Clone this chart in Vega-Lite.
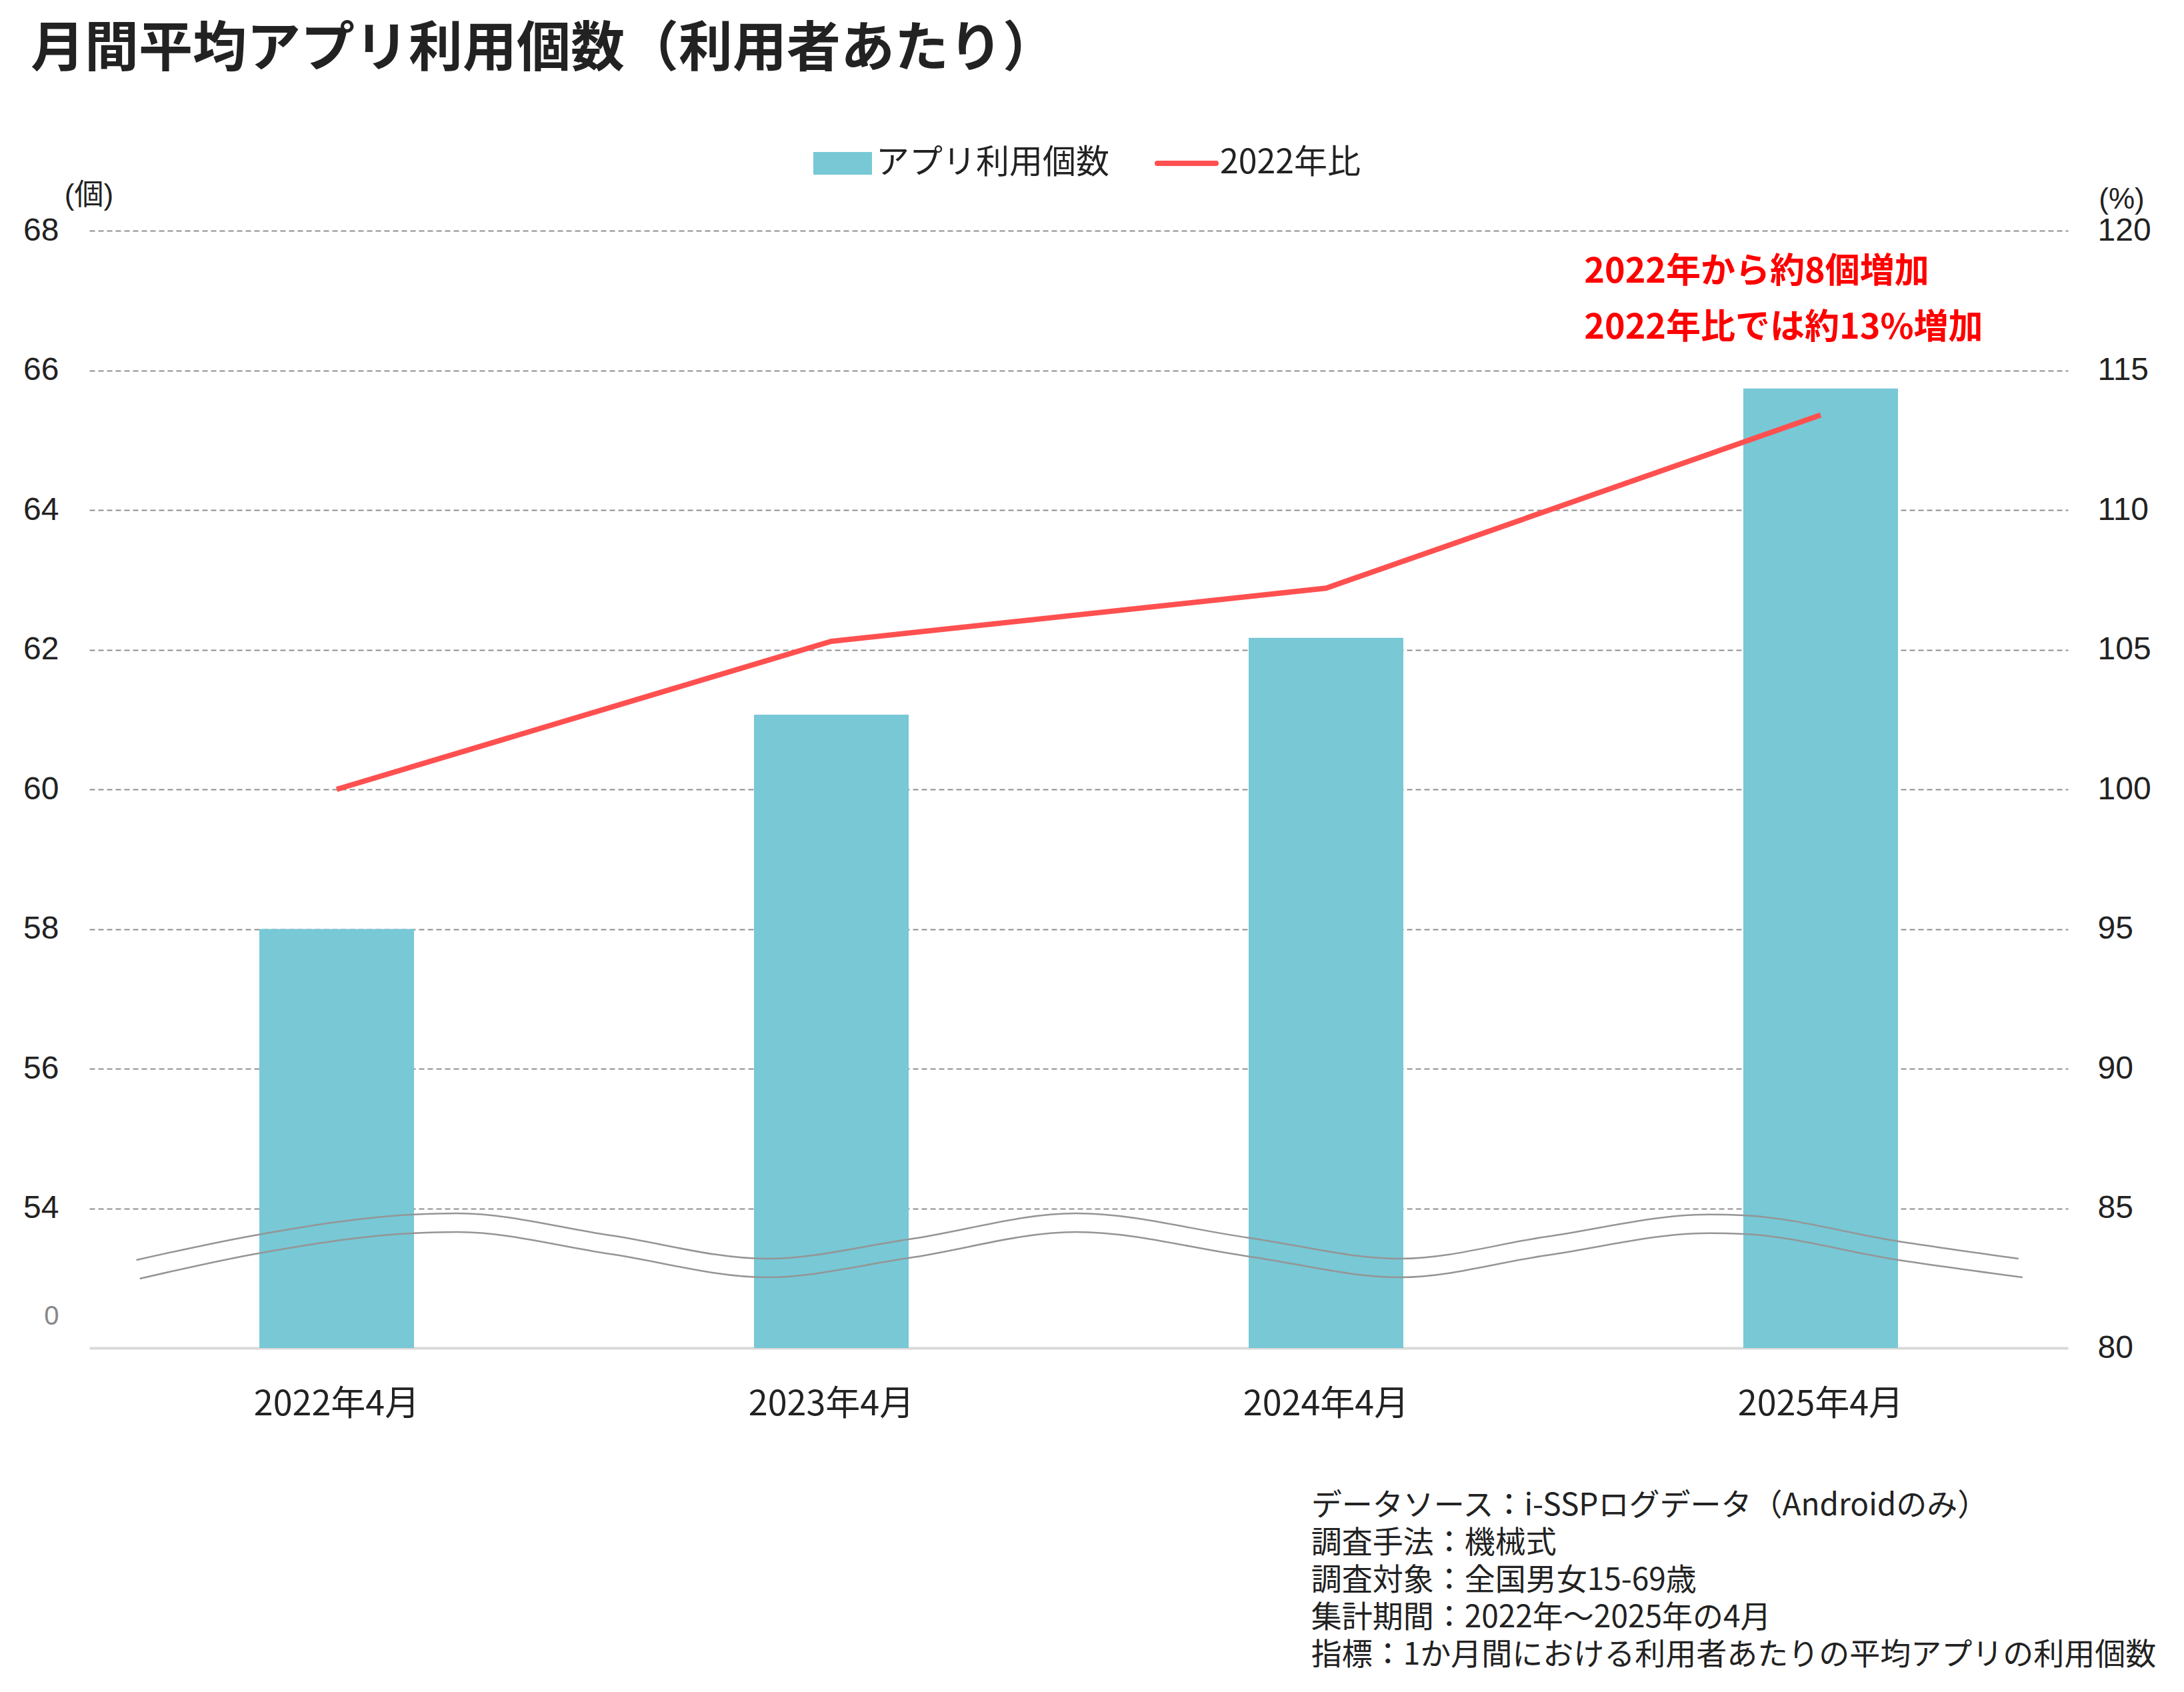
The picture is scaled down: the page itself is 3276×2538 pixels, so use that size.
{
  "$schema": "https://vega.github.io/schema/vega-lite/v6.json",
  "width": 2968,
  "height": 1676,
  "autosize": {"type": "none"},
  "padding": {"left": 134, "top": 346, "right": 174, "bottom": 516},
  "background": "white",
  "config": {"view": {"stroke": null}},
  "title": {
    "text": "月間平均アプリ利用個数（利用者あたり）",
    "anchor": "start",
    "frame": "group",
    "font": "Noto Sans CJK JP",
    "fontSize": 81,
    "fontWeight": "bold",
    "color": "#222222",
    "dx": -88,
    "dy": -104,
    "offset": 0
  },
  "datasets": {
    "main": [
      {"month": "2022年4月", "count": 58.0, "ratio": 100.0},
      {"month": "2023年4月", "count": 61.07, "ratio": 105.3},
      {"month": "2024年4月", "count": 62.17, "ratio": 107.2},
      {"month": "2025年4月", "count": 65.74, "ratio": 113.4}
    ],
    "wave": [
      {"line": "upper", "pos": 0.095, "level": 53.26},
      {"line": "upper", "pos": 0.344, "level": 53.626},
      {"line": "upper", "pos": 0.656, "level": 53.912},
      {"line": "upper", "pos": 0.744, "level": 53.928},
      {"line": "upper", "pos": 1.053, "level": 53.613},
      {"line": "upper", "pos": 1.369, "level": 53.279},
      {"line": "upper", "pos": 1.656, "level": 53.556},
      {"line": "upper", "pos": 1.995, "level": 53.928},
      {"line": "upper", "pos": 2.344, "level": 53.578},
      {"line": "upper", "pos": 2.65, "level": 53.279},
      {"line": "upper", "pos": 2.946, "level": 53.594},
      {"line": "upper", "pos": 3.275, "level": 53.912},
      {"line": "upper", "pos": 3.345, "level": 53.9},
      {"line": "upper", "pos": 3.655, "level": 53.53},
      {"line": "upper", "pos": 3.9, "level": 53.279},
      {"line": "lower", "pos": 0.102, "level": 52.993},
      {"line": "lower", "pos": 0.344, "level": 53.359},
      {"line": "lower", "pos": 0.656, "level": 53.645},
      {"line": "lower", "pos": 0.744, "level": 53.661},
      {"line": "lower", "pos": 1.053, "level": 53.346},
      {"line": "lower", "pos": 1.369, "level": 53.012},
      {"line": "lower", "pos": 1.656, "level": 53.289},
      {"line": "lower", "pos": 1.995, "level": 53.661},
      {"line": "lower", "pos": 2.344, "level": 53.311},
      {"line": "lower", "pos": 2.65, "level": 53.012},
      {"line": "lower", "pos": 2.946, "level": 53.327},
      {"line": "lower", "pos": 3.275, "level": 53.645},
      {"line": "lower", "pos": 3.345, "level": 53.633},
      {"line": "lower", "pos": 3.655, "level": 53.263},
      {"line": "lower", "pos": 3.908, "level": 53.012}
    ],
    "notes": [
      {"text": "2022年から約8個増加", "pos": 3.022, "level": 67.408},
      {"text": "2022年比では約13%増加", "pos": 3.022, "level": 66.606}
    ],
    "foot": [
      {"text": "データソース：i-SSPログデータ（Androidのみ）\n調査手法：機械式\n調査対象：全国男女15-69歳\n集計期間：2022年～2025年の4月\n指標：1か月間における利用者あたりの平均アプリの利用個数", "pos": 2.47, "level": 49.95}
    ]
  },
  "layer": [
    {
      "data": {"name": "main"},
      "mark": {"type": "bar"},
      "encoding": {
        "x": {
          "field": "month", "type": "nominal", "sort": null,
          "scale": {"paddingInner": 0.6873, "paddingOuter": 0.3437},
          "axis": {
            "orient": "bottom", "title": null, "labelAngle": 0, "labelLimit": 0,
            "labelFont": "Noto Sans CJK JP", "labelFontSize": 52, "labelColor": "#222222",
            "labelPadding": 59, "ticks": false, "tickSize": 0,
            "domainColor": "#d9d9d9", "domainWidth": 4, "grid": false
          }
        },
        "y": {
          "field": "count", "type": "quantitative",
          "scale": {"domain": [52, 68], "zero": false, "nice": false},
          "axis": {
            "orient": "left",
            "values": [52.458, 54, 56, 58, 60, 62, 64, 66, 68],
            "labelExpr": "datum.value < 53 ? '0' : datum.label",
            "labelColor": {"condition": {"test": "datum.value < 53", "value": "#888888"}, "value": "#222222"},
            "labelFontSize": {"condition": {"test": "datum.value < 53", "value": 40}, "value": 48},
            "labelFont": "Liberation Sans",
            "labelPadding": 46,
            "grid": true,
            "gridColor": "#8f8f8f",
            "gridDash": [8, 5],
            "gridWidth": 2,
            "gridOpacity": {"condition": {"test": "datum.value < 53", "value": 0}, "value": 1},
            "domain": false, "ticks": false, "tickSize": 0,
            "title": "(個)", "titleAngle": 0, "titleX": -1, "titleY": -53,
            "titleAlign": "center", "titleBaseline": "middle",
            "titleFont": "Liberation Sans, Noto Sans CJK JP", "titleFontSize": 44,
            "titleFontWeight": "normal", "titleColor": "#222222"
          }
        },
        "y2": {"datum": 52},
        "color": {
          "datum": "アプリ利用個数", "type": "nominal",
          "scale": {"domain": ["アプリ利用個数", "2022年比"], "range": ["#78C8D6", "#FF5050"]},
          "legend": {
            "orient": "none", "legendX": 1105, "legendY": -126, "direction": "horizontal",
            "title": null, "padding": 0, "labelLimit": 0,
            "labelFont": "Noto Sans CJK JP", "labelFontSize": 50, "labelColor": "#222222",
            "symbolSize": 7744, "symbolStrokeWidth": 0, "labelOffset": 25, "columnPadding": 56,
            "encode": {
              "symbols": {
                "update": {
                  "shape": {"signal": "datum.value === '2022年比' ? 'stroke' : 'M-1,-0.386H1V0.386H-1Z'"},
                  "fill": {"signal": "datum.value === '2022年比' ? 'transparent' : '#78C8D6'"},
                  "stroke": {"signal": "datum.value === '2022年比' ? '#FF5050' : 'transparent'"},
                  "strokeWidth": {"signal": "datum.value === '2022年比' ? 8 : 0"},
                  "strokeCap": {"value": "round"},
                  "opacity": {"value": 1},
                  "fillOpacity": {"value": 1}
                }
              }
            }
          }
        }
      }
    },
    {
      "data": {"name": "wave"},
      "mark": {"type": "line", "interpolate": "monotone", "color": "#959595", "strokeWidth": 2.5},
      "encoding": {
        "x": {"field": "pos", "type": "quantitative", "scale": {"domain": [0, 4], "nice": false, "zero": false}, "axis": null},
        "y": {"field": "level", "type": "quantitative", "scale": {"domain": [52, 68], "nice": false, "zero": false}, "axis": null},
        "detail": {"field": "line", "type": "nominal"}
      }
    },
    {
      "data": {"name": "main"},
      "mark": {"type": "line", "strokeWidth": 8},
      "encoding": {
        "x": {"field": "month", "type": "nominal", "sort": null, "axis": null},
        "y": {
          "field": "ratio", "type": "quantitative",
          "scale": {"domain": [80, 120], "zero": false, "nice": false},
          "axis": {
            "orient": "right",
            "values": [80, 85, 90, 95, 100, 105, 110, 115, 120],
            "labelFont": "Liberation Sans", "labelFontSize": 48, "labelColor": "#222222",
            "labelPadding": 44, "grid": false, "domain": false, "ticks": false, "tickSize": 0,
            "title": "(%)", "titleAngle": 0, "titleX": 80, "titleY": -47,
            "titleAlign": "center", "titleBaseline": "middle",
            "titleFont": "Liberation Sans", "titleFontSize": 44,
            "titleFontWeight": "normal", "titleColor": "#222222"
          }
        },
        "color": {
          "datum": "2022年比", "type": "nominal",
          "scale": {"domain": ["アプリ利用個数", "2022年比"], "range": ["#78C8D6", "#FF5050"]}
        }
      }
    },
    {
      "data": {"name": "notes"},
      "mark": {"type": "text", "align": "left", "baseline": "middle", "font": "Noto Sans CJK JP", "fontWeight": "bold", "fontSize": 52, "color": "#FF0000"},
      "encoding": {
        "x": {"field": "pos", "type": "quantitative", "scale": {"domain": [0, 4], "nice": false, "zero": false}, "axis": null},
        "y": {"field": "level", "type": "quantitative", "scale": {"domain": [52, 68], "nice": false, "zero": false}, "axis": null},
        "text": {"field": "text"}
      }
    },
    {
      "data": {"name": "foot"},
      "mark": {"type": "text", "align": "left", "baseline": "top", "lineBreak": "\n", "lineHeight": 56, "font": "Noto Sans CJK JP", "fontSize": 46, "color": "#222222"},
      "encoding": {
        "x": {"field": "pos", "type": "quantitative", "scale": {"domain": [0, 4], "nice": false, "zero": false}, "axis": null},
        "y": {"field": "level", "type": "quantitative", "scale": {"domain": [52, 68], "nice": false, "zero": false}, "axis": null},
        "text": {"field": "text"}
      }
    }
  ],
  "resolve": {"scale": {"x": "independent", "y": "independent"}}
}
